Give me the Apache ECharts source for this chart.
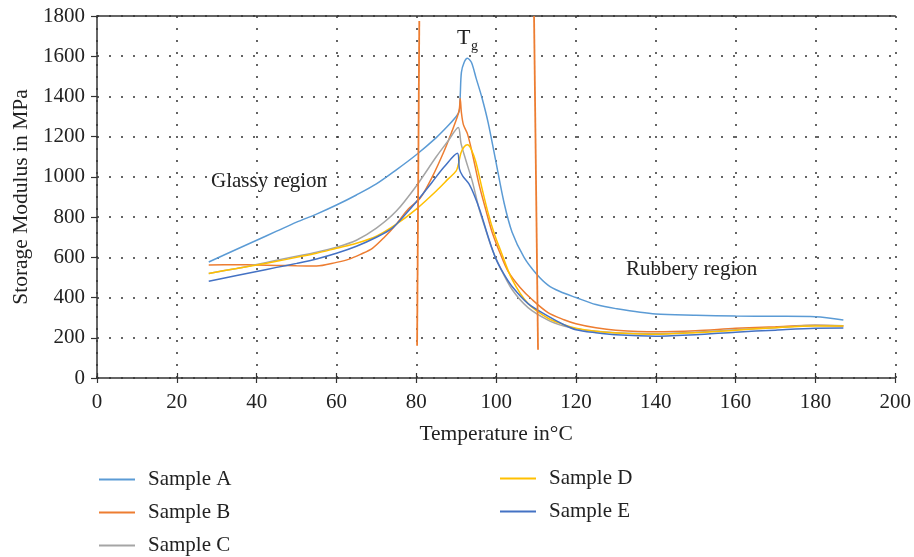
<!DOCTYPE html>
<html><head><meta charset="utf-8">
<script src="https://cdn.jsdelivr.net/npm/echarts@6/dist/echarts.min.js"></script>
<style>html,body{margin:0;padding:0;background:#fff}#c{width:914px;height:557px}</style>
</head><body><div id="c"></div>
<script>
// ---- data ----
const sampleA_T = [28,35,40,45,50,55,60,65,70,75,80,85,88,90,90.8,91.0,91.3,92.0,92.8,93.8,95,96.5,98,100,102,104,107,110,113,116,120,125,130,140,150,160,170,180,187];
const sampleA_E = [577,640,685,730,775,815,860,910,965,1035,1110,1195,1255,1300,1330,1400,1520,1570,1590,1570,1490,1390,1270,1070,870,725,600,520,462,430,400,365,345,318,312,308,307,305,288];

const sampleB_T = [28,35,40,45,50,55,60,63,66,69,72,75,78,81,84,87,89,90.3,90.8,91.0,91.3,91.8,92.8,94,95.75,97.5,99,101,103,106,109,113,117,120,125,130,140,150,160,170,180,187];
const sampleB_E = [562,563,562,560,558,557,575,590,615,645,700,765,840,895,1000,1130,1230,1300,1340,1390,1320,1260,1215,1120,960,830,725,620,530,450,390,325,290,270,250,238,230,235,247,255,262,259];

const sampleC_T = [28,35,40,45,50,55,60,65,70,75,80,85,88,90.5,91.2,92.4,94,95.75,97.5,99,101,104,108,113,117,120,125,130,140,150,160,170,180,187];
const sampleC_E = [520,545,565,585,605,625,650,685,745,830,955,1100,1180,1246,1167,1084,980,840,730,640,550,440,350,288,258,245,232,225,220,228,240,250,262,260];

const sampleD_T = [28,35,40,45,50,55,60,65,70,75,80,85,88,90,90.5,91.2,92.0,92.8,93.7,94.9,96.5,98,99.5,101,104,108,113,117,120,125,130,140,150,160,170,180,187];
const sampleD_E = [520,545,562,580,600,620,645,670,705,765,840,930,990,1030,1060,1120,1150,1160,1140,1075,940,820,720,640,490,370,297,265,248,232,224,218,225,238,250,258,258];

const sampleE_T = [28,35,40,45,50,55,60,65,70,74,78,81,84,87,90.3,90.8,91.6,93.2,94.5,96,98.2,100,102,104,108,113,117,120,125,130,140,150,160,170,180,187];
const sampleE_E = [481,510,530,550,570,592,620,655,700,745,830,900,975,1050,1117,1040,1005,965,910,830,690,590,515,455,370,308,265,240,225,215,208,215,228,238,247,248];

const tgLine1_T = [80.75, 80.2];
const tgLine1_E = [1775, 160];
const tgLine2_T = [109.5, 110.5];
const tgLine2_E = [1800, 140];

const sampleNames = ['Sample A','Sample B','Sample C','Sample D','Sample E'];
const sampleColors = ['#5B9BD5','#ED7D31','#A5A5A5','#FFC000','#4472C4'];

// ---- build ----
const zip = (xs, ys) => xs.map((x, i) => [x, ys[i]]);
const sampleData = [
  zip(sampleA_T, sampleA_E), zip(sampleB_T, sampleB_E), zip(sampleC_T, sampleC_E),
  zip(sampleD_T, sampleD_E), zip(sampleE_T, sampleE_E)
];
const FONT = 'Liberation Serif';
const series = sampleNames.map((n, i) => ({
  name: n, type: 'line', data: sampleData[i], smooth: 0.3, symbol: 'none',
  lineStyle: { color: sampleColors[i], width: 1.5 }, itemStyle: { color: sampleColors[i] },
  z: 3
}));
series.push({ name: 'Tg1', type: 'line', data: zip(tgLine1_T, tgLine1_E), symbol: 'none',
  lineStyle: { color: '#ED7D31', width: 1.8 }, z: 4 });
series.push({ name: 'Tg2', type: 'line', data: zip(tgLine2_T, tgLine2_E), symbol: 'none',
  lineStyle: { color: '#ED7D31', width: 1.8 }, z: 4 });

const dotted = { color: '#333', width: 1.5, type: [2, 10] };
const plain = v => String(v);
const legendText = { fontFamily: FONT, fontSize: 21, color: '#222', padding: [0, 0, 0, 8] };
const chart = echarts.init(document.getElementById('c'), null, { renderer: 'canvas' });
chart.setOption({
  animation: false,
  backgroundColor: '#fff',
  textStyle: { fontFamily: FONT },
  grid: { left: 97, right: 17, top: 16, bottom: 179 },
  xAxis: [
    { type: 'value', min: 0, max: 200, interval: 20, position: 'bottom',
      name: 'Temperature in°C', nameLocation: 'middle', nameGap: 45,
      nameTextStyle: { fontFamily: FONT, fontSize: 21.5, color: '#222' },
      axisLine: { lineStyle: { color: '#333', width: 1.5 } },
      axisTick: { length: 5, lineStyle: { color: '#333', width: 1.2 } },
      axisLabel: { fontFamily: FONT, fontSize: 21, color: '#222', margin: 14, formatter: plain },
      splitLine: { show: true, lineStyle: dotted } },
    { type: 'value', min: 0, max: 200, interval: 20, position: 'bottom',
      axisLine: { show: false }, axisTick: { inside: true, length: 5, lineStyle: { color: '#333', width: 1.2 } },
      axisLabel: { show: false }, splitLine: { show: false } },
    { type: 'value', min: 0, max: 200, position: 'top',
      axisLine: { show: true, lineStyle: { color: '#333', width: 1.5 } },
      axisTick: { show: false }, axisLabel: { show: false }, splitLine: { show: false } }
  ],
  yAxis: [
    { type: 'value', min: 0, max: 1800, interval: 200,
      name: 'Storage Modulus in MPa', nameLocation: 'middle', nameGap: 64,
      nameTextStyle: { fontFamily: FONT, fontSize: 21.5, color: '#222' },
      axisLine: { show: true, lineStyle: { color: '#333', width: 1.5 } },
      axisTick: { show: true, length: 6, lineStyle: { color: '#333', width: 1.2 } },
      axisLabel: { fontFamily: FONT, fontSize: 21, color: '#222', margin: 12, formatter: plain },
      splitLine: { show: true, lineStyle: dotted } }
  ],
  legend: [
    { data: sampleNames.slice(0, 3), orient: 'vertical', left: 99, top: 469, height: 120, padding: 0, itemGap: 12,
      icon: 'rect', itemWidth: 36, itemHeight: 2, textStyle: legendText },
    { data: sampleNames.slice(3), orient: 'vertical', left: 500, top: 468, height: 120, padding: 0, itemGap: 12,
      icon: 'rect', itemWidth: 36, itemHeight: 2, textStyle: legendText }
  ],
  graphic: [
    { type: 'text', left: 211, top: 171, style: { text: 'Glassy region', font: '21px "Liberation Serif"', fill: '#222' } },
    { type: 'text', left: 626, top: 259, style: { text: 'Rubbery region', font: '21px "Liberation Serif"', fill: '#222' } },
    { type: 'text', left: 457, top: 27, style: { text: 'T', font: '22px "Liberation Serif"', fill: '#222' } },
    { type: 'text', left: 471, top: 39, style: { text: 'g', font: '14px "Liberation Serif"', fill: '#222' } }
  ],
  series: series
});
</script></body></html>
